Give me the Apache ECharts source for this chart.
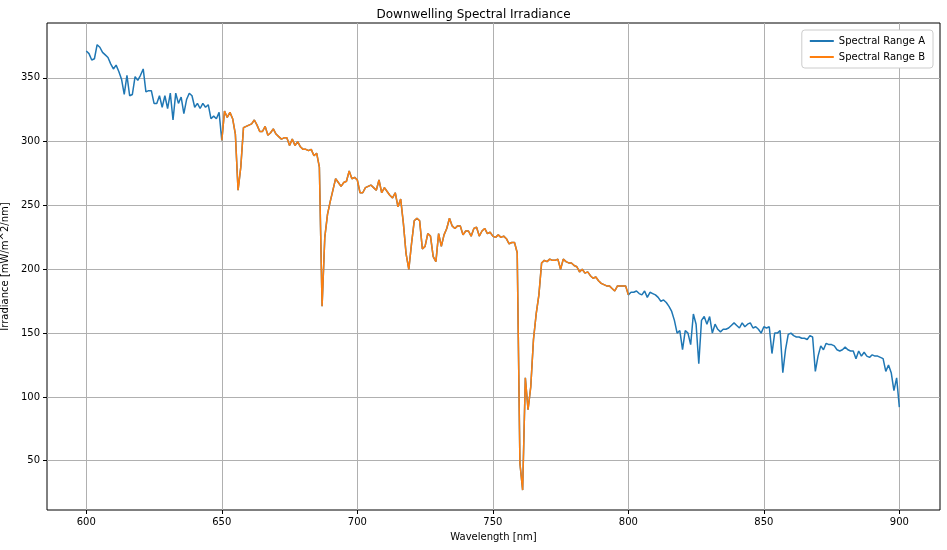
<!DOCTYPE html>
<html><head><meta charset="utf-8">
<script src="https://cdn.jsdelivr.net/npm/echarts@6/dist/echarts.min.js"></script>
<style>html,body{margin:0;padding:0;background:#fff}#c{width:947px;height:550px}</style>
</head><body><div id="c"></div>
<script>
const startWavelength = 600;
const irradianceA = [
371,369,364,365,376,374,370,368,366,361,357,360,355,349,337,352,336,337,351,348,
352,357,339,340,340,330,330,336,327,336,326,338,317,338,330,335,322,333,338,336,
327,330,326,330,327,329,318,320,318,323,301,
324,319,323,318,306,262,280,311,312,313,314,317,313,308,308,312,305,307,310,306,
304,302,303,303,297,302,297,300,296,294,294,293,294,289,291,280,171,225,243,253,
262,271,268,265,268,269,277,271,272,270,260,260,264,265,266,264,262,270,260,264,
261,258,256,260,249,255,236,212,200,220,238,240,238,216,218,228,226,210,206,228,
218,227,232,240,234,232,234,234,227,230,230,226,232,233,226,230,232,228,229,226,
225,227,225,226,224,220,221,221,213,48,27,115,90,108,145,165,180,205,207,206,
208,207,207,208,200,208,206,205,205,203,202,198,200,197,198,195,193,194,191,189,
188,187,187,185,183,187,187,187,187,180,
182,182,183,181,180,183,178,182,181,180,178,175,176,174,171,167,160,150,152,137,
152,150,141,165,157,126,160,163,157,163,150,157,153,151,153,153,154,156,158,156,
154,158,155,157,158,154,155,153,150,155,154,155,134,150,150,152,119,137,149,150,
148,147,147,146,146,145,148,147,120,132,140,137,142,141,141,140,137,136,137,139,
137,136,136,130,136,132,135,132,131,133,132,132,131,130,120,125,119,105,115,92
];
const rangeBStart = 650, rangeBEnd = 800;
const xTicks = [600,650,700,750,800,850,900];
const yTicks = [50,100,150,200,250,300,350];

const dataA = irradianceA.map((v,i)=>[startWavelength+i, v]);
const dataB = dataA.filter(d=>d[0]>=rangeBStart && d[0]<=rangeBEnd);
const font = 'DejaVu Sans';
const chart = echarts.init(document.getElementById('c'));
chart.setOption({
  animation:false,
  textStyle:{fontFamily:font},
  title:{text:'Downwelling Spectral Irradiance',left:'center',top:4,textStyle:{fontSize:12,fontWeight:'normal',color:'#000',fontFamily:font}},
  legend:{top:30,right:14,orient:'vertical',itemWidth:24,itemHeight:2,itemGap:6,
    backgroundColor:'#fff',borderColor:'#ccc',borderWidth:1,borderRadius:3,padding:[6,8],
    textStyle:{fontSize:10,color:'#000'},
    data:[{name:'Spectral Range A',icon:'rect'},{name:'Spectral Range B',icon:'rect'}]},
  grid:{left:47,right:7,top:23,bottom:40,containLabel:false,outerBoundsMode:'none',show:true,borderColor:'#000',borderWidth:1},
  xAxis:{type:'value',min:585.5,max:915,name:'Wavelength [nm]',nameLocation:'middle',nameGap:22,
    nameTextStyle:{fontSize:10,color:'#000'},
    axisLine:{show:false},
    axisTick:{show:true,customValues:xTicks,length:4,lineStyle:{color:'#000'}},
    axisLabel:{customValues:xTicks,fontSize:10,color:'#000',margin:7},
    splitLine:{show:true,lineStyle:{color:'#b0b0b0',width:1}}},
  yAxis:{type:'value',min:11.4,max:393,name:'Irradiance [mW/m^2/nm]',nameLocation:'middle',nameGap:33,
    nameTextStyle:{fontSize:10,color:'#000'},
    axisLine:{show:false},
    axisTick:{show:true,customValues:yTicks,length:4,lineStyle:{color:'#000'}},
    axisLabel:{customValues:yTicks,fontSize:10,color:'#000',margin:7},
    splitLine:{show:true,lineStyle:{color:'#b0b0b0',width:1}}},
  series:[
    {name:'Spectral Range A',type:'line',data:dataA,showSymbol:false,color:'#1f77b4',lineStyle:{width:1.5,color:'#1f77b4'}},
    {name:'Spectral Range B',type:'line',data:dataB,showSymbol:false,color:'#ff7f0e',lineStyle:{width:1.5,color:'#ff7f0e'}}
  ]
});
</script></body></html>
